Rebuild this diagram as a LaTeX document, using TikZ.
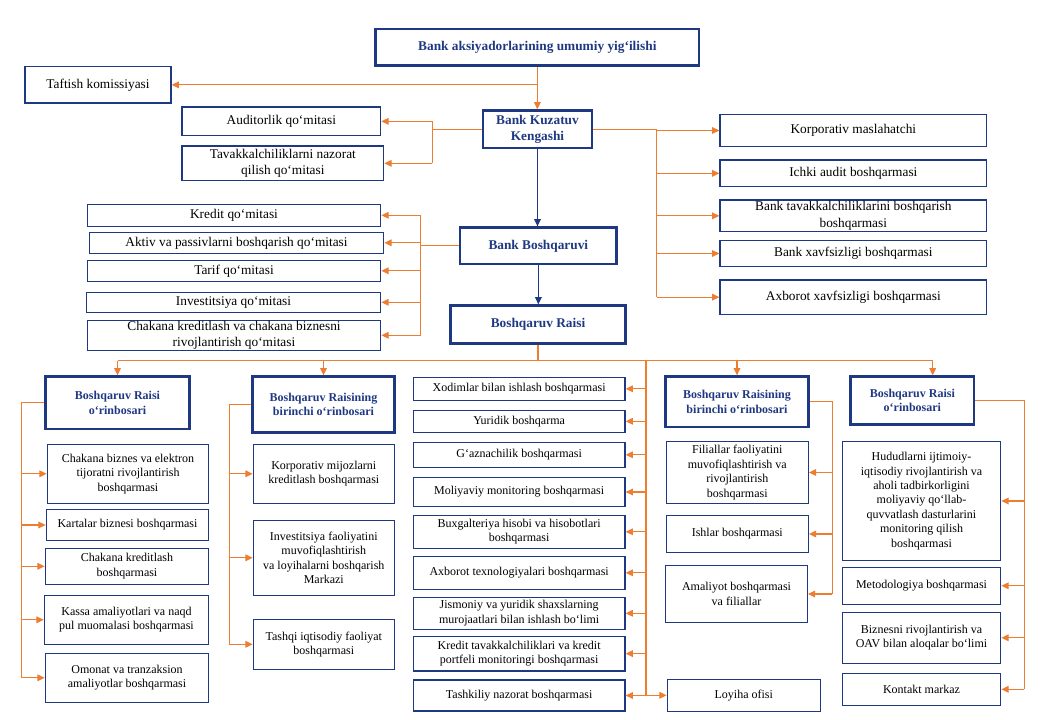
\documentclass[tikz,border=0pt]{standalone}
\usepackage{fontspec}
\setmainfont{Liberation Serif}
\usetikzlibrary{arrows.meta}
\definecolor{navy}{RGB}{31,56,130}
\definecolor{org}{RGB}{237,125,49}
\newcommand\mybox[7]{\node[#1, minimum width={(#5-#3)*0.75pt}, minimum height={(#6-#4)*0.75pt}] (#2) at ({(#3+#5)/2},{(#4+#6)/2}) {#7};}
\begin{document}
\begin{tikzpicture}[x=0.75pt,y=-0.75pt,
  box/.style={draw=navy, line width=0.9pt, inner xsep=1pt, inner ysep=0pt, align=center, font=\fontsize{9}{10.8}\selectfont, text=black},
  bigbox/.style={box, font=\fontsize{10}{12.2}\selectfont},
  head/.style={draw=navy, line width=2pt, inner xsep=1pt, inner ysep=0pt, align=center, font=\fontsize{10}{12.2}\selectfont\bfseries, text=navy},
  heads/.style={head, font=\fontsize{9}{10.8}\selectfont\bfseries},
  oline/.style={draw=org, line width=0.9pt},
  oarr/.style={oline, -{Triangle[length=5.5pt,width=5pt]}},
  barr/.style={draw=navy, line width=0.9pt, -{Triangle[length=5.5pt,width=5pt]}},
]
\useasboundingbox (0,0) rectangle (1040,720);
% top part
\mybox{head}{top}{375.7}{29}{699}{65.7}{Bank aksiyadorlarining umumiy  yig`ilishi}
\mybox{bigbox}{taf}{25}{66.7}{171}{103}{Taftish komissiyasi}
\mybox{head}{kuz}{483}{110.7}{592}{148}{Bank Kuzatuv\\Kengashi}
\mybox{bigbox}{aud}{182}{107}{380.7}{135.7}{Auditorlik  qo`mitasi}
\mybox{bigbox}{tav}{182}{146}{383.7}{180.7}{Tavakkalchiliklarni  nazorat\\qilish qo`mitasi}
\mybox{bigbox}{kor}{720}{114.3}{986.7}{146.7}{Korporativ maslahatchi}
\mybox{bigbox}{ich}{720}{160}{986.7}{186.7}{Ichki  audit boshqarmasi}
\mybox{bigbox}{btv}{720}{200}{986.7}{231.7}{Bank tavakkalchiliklarini  boshqarish\\boshqarmasi}
\mybox{bigbox}{bxv}{720}{240.3}{986.7}{266.7}{Bank xavfsizligi  boshqarmasi}
\mybox{bigbox}{axv}{720}{280}{986.7}{314.3}{Axborot xavfsizligi  boshqarmasi}
\mybox{head}{bsh}{460}{227.7}{616.7}{264}{Bank Boshqaruvi}
\mybox{bigbox}{kre}{87.3}{204.3}{380.7}{226.3}{Kredit  qo`mitasi}
\mybox{bigbox}{akt}{89.3}{232.3}{383.7}{253.3}{Aktiv va passivlarni boshqarish qo`mitasi}
\mybox{bigbox}{tar}{87.3}{260.3}{380.7}{281.3}{Tarif  qo`mitasi}
\mybox{bigbox}{inv}{86.3}{292.3}{380.7}{312.3}{Investitsiya qo`mitasi}
\mybox{bigbox}{chq}{87.3}{320.3}{380.7}{350.3}{Chakana kreditlash va chakana biznesni\\rivojlantirish  qo`mitasi}
\mybox{head}{rai}{450.7}{305.7}{625.3}{343.3}{Boshqaruv  Raisi}
% heads of lower part
\mybox{heads}{o1}{45.7}{376.7}{189.3}{429}{Boshqaruv Raisi\\o`rinbosari}
\mybox{heads}{o2}{252.7}{376.7}{394.3}{432.3}{Boshqaruv Raisining\\birinchi o`rinbosari}
\mybox{heads}{o4}{665.7}{376.7}{808.3}{427}{Boshqaruv Raisining\\birinchi o`rinbosari}
\mybox{heads}{o5}{850.7}{376.7}{974}{424.3}{Boshqaruv Raisi\\o`rinbosari}
% column 1
\mybox{box}{a1}{47.3}{444.3}{208.7}{503.3}{Chakana biznes va elektron\\tijoratni rivojlantirish\\boshqarmasi}
\mybox{box}{a2}{46.3}{509.3}{208.7}{540.7}{Kartalar biznesi boshqarmasi}
\mybox{box}{a3}{45.3}{548.3}{208.7}{584.3}{Chakana kreditlash\\boshqarmasi}
\mybox{box}{a4}{44.3}{595.3}{208.7}{644.3}{Kassa amaliyotlari va naqd\\pul muomalasi  boshqarmasi}
\mybox{box}{a5}{45.3}{653.3}{208.7}{702.3}{Omonat va tranzaksion\\amaliyotlar boshqarmasi}
% column 2
\mybox{box}{b1}{253.3}{444.3}{394.3}{503.3}{Korporativ mijozlarni\\kreditlash boshqarmasi}
\mybox{box}{b2}{253.3}{520.3}{394.3}{595.3}{Investitsiya faoliyatini\\muvofiqlashtirish\\va loyihalarni boshqarish\\Markazi}
\mybox{box}{b3}{253.3}{619.3}{394.3}{669.3}{Tashqi iqtisodiy faoliyat\\boshqarmasi}
% middle column
\mybox{box}{m1}{413.3}{377.3}{625}{400.3}{Xodimlar bilan ishlash boshqarmasi}
\mybox{box}{m2}{413.3}{410.3}{625}{432.3}{Yuridik boshqarma}
\mybox{box}{m3}{413.3}{442.3}{625}{467.3}{G`aznachilik boshqarmasi}
\mybox{box}{m4}{413.3}{477.3}{625}{506.7}{Moliyaviy monitoring boshqarmasi}
\mybox{box}{m5}{413.3}{515.3}{625}{548.3}{Buxgalteriya  hisobi va hisobotlari\\boshqarmasi}
\mybox{box}{m6}{413.3}{556.3}{625}{589.3}{Axborot texnologiyalari  boshqarmasi}
\mybox{box}{m7}{413.3}{597.3}{625}{629.3}{Jismoniy va yuridik shaxslarning\\murojaatlari  bilan ishlash bo`limi}
\mybox{box}{m8}{413.3}{636.3}{625}{671}{Kredit tavakkalchiliklari  va kredit\\portfeli monitoringi  boshqarmasi}
\mybox{box}{m9}{413.3}{680}{625}{711}{Tashkiliy nazorat boshqarmasi}
% column 4
\mybox{box}{c1}{666.3}{441.7}{808.3}{503.3}{Filiallar  faoliyatini\\muvofiqlashtirish va\\rivojlantirish\\boshqarmasi}
\mybox{box}{c2}{666.3}{515.7}{808.3}{552.3}{Ishlar boshqarmasi}
\mybox{box}{c3}{665.7}{565.7}{807.3}{622.3}{Amaliyot boshqarmasi\\va filiallar}
\mybox{box}{lo}{667.3}{679.3}{820.3}{711.3}{Loyiha ofisi}
% column 5
\mybox{box}{d1}{842.3}{441.7}{1000.7}{560.3}{Hududlarni ijtimoiy-\\iqtisodiy rivojlantirish va\\aholi tadbirkorligini\\moliyaviy qo`llab-\\quvvatlash dasturlarini\\monitoring qilish\\boshqarmasi}
\mybox{box}{d2}{842.3}{567.3}{1000.7}{604.3}{Metodologiya boshqarmasi}
\mybox{box}{d3}{842.3}{612.3}{1000.7}{663.3}{Biznesni rivojlantirish  va\\OAV bilan aloqalar  bo`limi}
\mybox{box}{d4}{842.3}{673.3}{1000.7}{705.3}{Kontakt markaz}
% ---------- connectors
\draw[oarr] (top.south) -- (top.south |- kuz.north);
\coordinate (jt) at (top.south |- taf.east);
\draw[oarr] (jt) -- (taf.east);
% Kuzatuv left
\coordinate (xk) at (432.3,0);
\draw[oline] (kuz.west) -- (kuz.west -| xk);
\draw[oline] (xk |- aud.east) -- (xk |- tav.east);
\foreach \n in {aud,tav} \draw[oarr] (xk |- \n.east) -- (\n.east);
% Kuzatuv right
\coordinate (xr) at (656.7,0);
\draw[oline] (kuz.east) -- (kuz.east -| xr);
\draw[oline] (xr |- kuz.east) -- (xr |- axv.west);
\foreach \n in {kor,ich,btv,bxv,axv} \draw[oarr] (xr |- \n.west) -- (\n.west);
% Kuzatuv -> Boshqaruvi -> Raisi
\draw[barr] (kuz.south) -- (kuz.south |- bsh.north);
\draw[barr] (bsh.south) -- (bsh.south |- rai.north);
% committees
\coordinate (xc) at (420.7,0);
\draw[oline] (bsh.west) -- (bsh.west -| xc);
\draw[oline] (xc |- kre.east) -- (xc |- chq.east);
\foreach \n in {kre,akt,tar,inv,chq} \draw[oarr] (xc |- \n.east) -- (\n.east);
% bus
\coordinate (yb) at (0,360.7);
\coordinate (x5) at (932.7,360.7);
\draw[oline] (rai.south) -- (rai.south |- yb);
\draw[oline] (o1.north |- yb) -- (x5);
\draw[oarr] (o1.north |- yb) -- (o1.north);
\draw[oarr] (o2.north |- yb) -- (o2.north);
\draw[oarr] (o4.north |- yb) -- (o4.north);
\draw[oarr] (x5) -- (x5 |- o5.north);
% middle column
\coordinate (xm) at (646,360.7);
\draw[oline] (xm) -- (xm |- m9.east);
\foreach \n in {m1,m2,m3,m4,m5,m6,m7,m8,m9} \draw[oarr] (xm |- \n.east) -- (\n.east);
\draw[oarr] (xm |- lo.west) -- (lo.west);
% column 1
\coordinate (x1) at (21.3,0);
\draw[oline] (o1.west) -- (o1.west -| x1) -- (x1 |- a5.west);
\foreach \n in {a1,a2,a3,a4,a5} \draw[oarr] (x1 |- \n.west) -- (\n.west);
% column 2
\coordinate (x2) at (229.3,0);
\draw[oline] (o2.west) -- (o2.west -| x2) -- (x2 |- b3.west);
\foreach \n in {b1,b2,b3} \draw[oarr] (x2 |- \n.west) -- (\n.west);
% column 4
\coordinate (x4) at (832.3,0);
\draw[oline] (o4.east) -- (o4.east -| x4) -- (x4 |- c3.east);
\foreach \n in {c1,c2,c3} \draw[oarr] (x4 |- \n.east) -- (\n.east);
% column 5
\coordinate (x6) at (1024.3,0);
\draw[oline] (o5.east) -- (o5.east -| x6) -- (x6 |- d4.east);
\foreach \n in {d1,d2,d3,d4} \draw[oarr] (x6 |- \n.east) -- (\n.east);
\end{tikzpicture}
\end{document}
